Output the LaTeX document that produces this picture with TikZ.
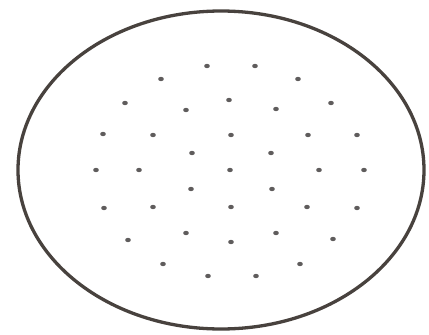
\documentclass[tikz,border=0pt]{standalone}
\definecolor{rimcol}{RGB}{72,66,62}
\definecolor{dotcol}{RGB}{95,92,92}
\begin{document}
\begin{tikzpicture}[x=1pt,y=-1pt,
  rim/.style={draw=rimcol, line width=3.3pt},
  dot/.style={fill=dotcol, draw=none}]
\useasboundingbox (0,0) rectangle (429,335);
\node[draw=none] (c) at (221,170) {};
\draw[rim] (c.center) ellipse [x radius=203, y radius=159];
\foreach \x/\y in {207/66,255/66,161/79,298/79,125/103,229/100,331/103,186/110,276/109,
  103/134,153/135,231/135,308/135,357/135,192/153,271/153,
  96/170,139/170,230/170,319/170,364/170,
  191/189,272/189,
  104/208,153/207,231/207,307/207,357/208,
  186/233,276/233,128/240,231/242,333/239,
  163/264,300/264,208/276,256/276}
  \fill[dot] (\x,\y) ellipse [x radius=2.8, y radius=2.2];
\end{tikzpicture}
\end{document}
